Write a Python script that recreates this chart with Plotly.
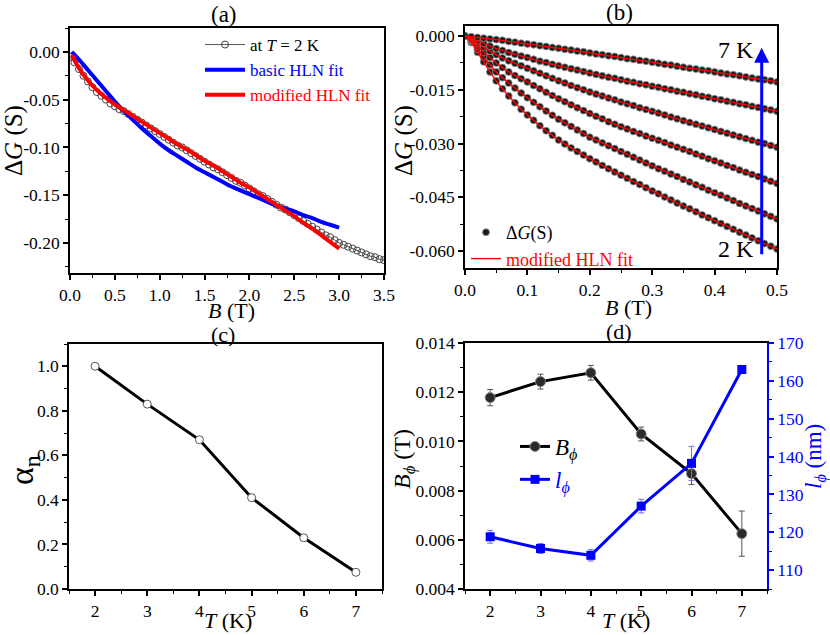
import plotly.graph_objects as go

FONT = "Liberation Serif, Times New Roman, DejaVu Serif, serif"

# ---------------- Panel (a) data ----------------
B_a = [0.00, 0.05, 0.10, 0.15, 0.20, 0.25, 0.30, 0.35, 0.40, 0.45,
       0.50, 0.55, 0.60, 0.65, 0.70, 0.75, 0.80, 0.85, 0.90, 0.95,
       1.00, 1.05, 1.10, 1.15, 1.20, 1.25, 1.30, 1.35, 1.40, 1.45,
       1.50, 1.55, 1.60, 1.65, 1.70, 1.75, 1.80, 1.85, 1.90, 1.95,
       2.00, 2.05, 2.10, 2.15, 2.20, 2.25, 2.30, 2.35, 2.40, 2.45,
       2.50, 2.55, 2.60, 2.65, 2.70, 2.75, 2.80, 2.85, 2.90, 2.95,
       3.00, 3.05, 3.10, 3.15, 3.20, 3.25, 3.30, 3.35, 3.40, 3.45,
       3.50]
dG_a = [-0.005, -0.011, -0.018, -0.025, -0.031, -0.037, -0.042, -0.046, -0.050, -0.054,
        -0.057, -0.060, -0.062, -0.065, -0.068, -0.071, -0.074, -0.077, -0.080, -0.083,
        -0.086, -0.089, -0.092, -0.095, -0.098, -0.100, -0.103, -0.106, -0.109, -0.112,
        -0.115, -0.118, -0.121, -0.123, -0.126, -0.129, -0.132, -0.135, -0.137, -0.140,
        -0.143, -0.146, -0.149, -0.151, -0.154, -0.157, -0.160, -0.163, -0.165, -0.168,
        -0.171, -0.174, -0.177, -0.180, -0.183, -0.186, -0.189, -0.192, -0.194, -0.197,
        -0.200, -0.202, -0.204, -0.206, -0.208, -0.210, -0.212, -0.214, -0.215, -0.217,
        -0.218]
B_fit_a = [0.02, 0.10, 0.20, 0.30, 0.40, 0.50, 0.60, 0.70, 0.80, 0.90,
           1.00, 1.10, 1.20, 1.30, 1.40, 1.50, 1.60, 1.70, 1.80, 1.90,
           2.00, 2.10, 2.20, 2.30, 2.40, 2.50, 2.60, 2.70, 2.80, 2.90,
           3.00]
basic_fit_a = [0.000, -0.008, -0.019, -0.030, -0.041, -0.052, -0.062, -0.071, -0.080, -0.088,
               -0.096, -0.103, -0.109, -0.115, -0.121, -0.126, -0.131, -0.136, -0.141, -0.145,
               -0.149, -0.153, -0.157, -0.161, -0.164, -0.167, -0.171, -0.174, -0.178, -0.181,
               -0.184]
mod_fit_a = [-0.003, -0.017, -0.030, -0.040, -0.048, -0.055, -0.061, -0.067, -0.073, -0.079,
             -0.085, -0.091, -0.097, -0.102, -0.108, -0.114, -0.119, -0.125, -0.131, -0.137,
             -0.142, -0.148, -0.154, -0.160, -0.166, -0.172, -0.179, -0.185, -0.192, -0.199,
             -0.206]

# ---------------- Panel (b) data ----------------
B_b = [0.00, 0.01, 0.02, 0.03, 0.04, 0.05, 0.06, 0.07, 0.08, 0.09,
       0.10, 0.11, 0.12, 0.13, 0.14, 0.15, 0.16, 0.17, 0.18, 0.19,
       0.20, 0.21, 0.22, 0.23, 0.24, 0.25, 0.26, 0.27, 0.28, 0.29,
       0.30, 0.31, 0.32, 0.33, 0.34, 0.35, 0.36, 0.37, 0.38, 0.39,
       0.40, 0.41, 0.42, 0.43, 0.44, 0.45, 0.46, 0.47, 0.48, 0.49,
       0.50]
dG_2K = [0.0, -0.0018, -0.0045, -0.0072, -0.0100, -0.0125, -0.0147, -0.0167, -0.0186, -0.0204,
         -0.0220, -0.0235, -0.0250, -0.0264, -0.0277, -0.0290, -0.0301, -0.0312, -0.0322, -0.0332,
         -0.0342, -0.0351, -0.0361, -0.0370, -0.0379, -0.0388, -0.0397, -0.0406, -0.0414, -0.0423,
         -0.0432, -0.0440, -0.0449, -0.0457, -0.0466, -0.0474, -0.0482, -0.0490, -0.0499, -0.0507,
         -0.0515, -0.0523, -0.0531, -0.0539, -0.0547, -0.0555, -0.0563, -0.0571, -0.0579, -0.0586,
         -0.0594]
dG_3K = [0.0, -0.0015, -0.0037, -0.0058, -0.0080, -0.0100, -0.0116, -0.0131, -0.0145, -0.0159,
         -0.0172, -0.0185, -0.0197, -0.0209, -0.0221, -0.0232, -0.0242, -0.0252, -0.0262, -0.0272,
         -0.0282, -0.0290, -0.0298, -0.0306, -0.0314, -0.0322, -0.0330, -0.0338, -0.0346, -0.0354,
         -0.0362, -0.0370, -0.0377, -0.0385, -0.0392, -0.0400, -0.0407, -0.0415, -0.0422, -0.0430,
         -0.0437, -0.0444, -0.0452, -0.0459, -0.0467, -0.0474, -0.0481, -0.0488, -0.0496, -0.0503,
         -0.0510]
dG_4K = [0.0, -0.0012, -0.0028, -0.0045, -0.0060, -0.0075, -0.0088, -0.0100, -0.0110, -0.0119,
         -0.0128, -0.0138, -0.0147, -0.0157, -0.0166, -0.0175, -0.0183, -0.0192, -0.0200, -0.0208,
         -0.0216, -0.0224, -0.0231, -0.0239, -0.0246, -0.0253, -0.0259, -0.0266, -0.0272, -0.0279,
         -0.0285, -0.0291, -0.0297, -0.0304, -0.0310, -0.0316, -0.0322, -0.0329, -0.0335, -0.0342,
         -0.0348, -0.0354, -0.0361, -0.0367, -0.0374, -0.0380, -0.0386, -0.0392, -0.0399, -0.0405,
         -0.0411]
dG_5K = [0.0, -0.0009, -0.0020, -0.0031, -0.0042, -0.0052, -0.0061, -0.0069, -0.0076, -0.0083,
         -0.0090, -0.0097, -0.0104, -0.0111, -0.0118, -0.0125, -0.0131, -0.0138, -0.0144, -0.0150,
         -0.0156, -0.0162, -0.0167, -0.0173, -0.0178, -0.0184, -0.0189, -0.0194, -0.0200, -0.0205,
         -0.0210, -0.0215, -0.0220, -0.0226, -0.0231, -0.0236, -0.0241, -0.0246, -0.0251, -0.0256,
         -0.0261, -0.0266, -0.0271, -0.0276, -0.0281, -0.0286, -0.0291, -0.0296, -0.0300, -0.0305,
         -0.0310]
dG_6K = [0.0, -0.0006, -0.0013, -0.0020, -0.0028, -0.0035, -0.0040, -0.0046, -0.0051, -0.0056,
         -0.0060, -0.0065, -0.0070, -0.0074, -0.0079, -0.0083, -0.0087, -0.0091, -0.0095, -0.0099,
         -0.0103, -0.0107, -0.0111, -0.0115, -0.0118, -0.0122, -0.0126, -0.0129, -0.0133, -0.0136,
         -0.0140, -0.0143, -0.0147, -0.0150, -0.0154, -0.0157, -0.0161, -0.0164, -0.0168, -0.0171,
         -0.0175, -0.0178, -0.0182, -0.0185, -0.0189, -0.0192, -0.0196, -0.0199, -0.0203, -0.0206,
         -0.0210]
dG_7K = [0.0, -0.0002, -0.0004, -0.0006, -0.0008, -0.0010, -0.0012, -0.0015, -0.0017, -0.0020,
         -0.0022, -0.0024, -0.0027, -0.0029, -0.0032, -0.0034, -0.0037, -0.0039, -0.0042, -0.0044,
         -0.0047, -0.0050, -0.0052, -0.0055, -0.0057, -0.0060, -0.0063, -0.0065, -0.0068, -0.0070,
         -0.0073, -0.0076, -0.0079, -0.0081, -0.0084, -0.0087, -0.0090, -0.0092, -0.0095, -0.0097,
         -0.0100, -0.0103, -0.0106, -0.0108, -0.0111, -0.0114, -0.0117, -0.0120, -0.0122, -0.0125,
         -0.0128]
curves_b = [dG_2K, dG_3K, dG_4K, dG_5K, dG_6K, dG_7K]

# ---------------- Panel (c), (d) data ----------------
T = [2, 3, 4, 5, 6, 7]
alpha_n = [1.00, 0.83, 0.67, 0.41, 0.23, 0.075]
B_phi = [0.01178, 0.01243, 0.01279, 0.01030, 0.00869, 0.00625]
B_phi_err = [0.00033, 0.00030, 0.00030, 0.00028, 0.00044, 0.00092]
l_phi = [118.8, 115.7, 113.9, 126.9, 138.2, 163.0]
l_phi_err = [1.7, 1.3, 1.5, 1.8, 4.5, 1.0]

# ---------------- tick labels ----------------
yticks_a = [0.00, -0.05, -0.10, -0.15, -0.20]
yticktext_a = ["0.00", "-0.05", "-0.10", "-0.15", "-0.20"]
xticks_a = [0.0, 0.5, 1.0, 1.5, 2.0, 2.5, 3.0, 3.5]
xticktext_a = ["0.0", "0.5", "1.0", "1.5", "2.0", "2.5", "3.0", "3.5"]
yticks_b = [0.000, -0.015, -0.030, -0.045, -0.060]
yticktext_b = ["0.000", "-0.015", "-0.030", "-0.045", "-0.060"]
xticks_b = [0.0, 0.1, 0.2, 0.3, 0.4, 0.5]
xticktext_b = ["0.0", "0.1", "0.2", "0.3", "0.4", "0.5"]
yticks_c = [0.0, 0.2, 0.4, 0.6, 0.8, 1.0]
yticktext_c = ["0.0", "0.2", "0.4", "0.6", "0.8", "1.0"]
yticks_d = [0.004, 0.006, 0.008, 0.010, 0.012, 0.014]
yticktext_d = ["0.004", "0.006", "0.008", "0.010", "0.012", "0.014"]
y2ticks_d = [110, 120, 130, 140, 150, 160, 170]

fig = go.Figure()

# ---- (a)
fig.add_trace(go.Scatter(
    x=B_a, y=dG_a, mode="lines+markers", name="at <i>T</i> = 2 K",
    line=dict(color="#555555", width=1),
    marker=dict(symbol="circle-open", size=7, color="#444444", line=dict(width=1)),
    xaxis="x", yaxis="y", legend="legend"))
fig.add_trace(go.Scatter(
    x=B_fit_a, y=basic_fit_a, mode="lines", name="<span style='color:#0000ff'>basic HLN fit</span>",
    line=dict(color="#0000ff", width=4, shape="spline"), xaxis="x", yaxis="y", legend="legend"))
fig.add_trace(go.Scatter(
    x=B_fit_a, y=mod_fit_a, mode="lines", name="<span style='color:#ff0000'>modified HLN fit</span>",
    line=dict(color="#ff0000", width=4, shape="spline"), xaxis="x", yaxis="y", legend="legend"))

# ---- (b)
for i, c in enumerate(curves_b):
    fig.add_trace(go.Scatter(
        x=B_b, y=c, mode="markers", name="Δ<i>G</i>(S)", showlegend=(i == 0),
        marker=dict(symbol="circle", size=7, color="#1c1c1c", line=dict(color="#9a9a9a", width=0.8)),
        xaxis="x2", yaxis="y2", legend="legend2"))
for i, c in enumerate(curves_b):
    fig.add_trace(go.Scatter(
        x=B_b, y=c, mode="lines", name="<span style='color:#ff0000'>modified HLN fit</span>",
        showlegend=(i == 0), line=dict(color="#ff0000", width=1.4, shape="spline"),
        xaxis="x2", yaxis="y2", legend="legend2"))

# ---- (c)
fig.add_trace(go.Scatter(
    x=T, y=alpha_n, mode="lines+markers", showlegend=False,
    line=dict(color="black", width=3),
    marker=dict(symbol="circle", size=8, color="white", line=dict(color="#555555", width=1)),
    xaxis="x3", yaxis="y3"))

# ---- (d)
fig.add_trace(go.Scatter(
    x=T, y=B_phi, mode="lines+markers", name="<i>B</i><sub><i>ϕ</i></sub>",
    error_y=dict(type="data", array=B_phi_err, color="#555555", thickness=1, width=3),
    line=dict(color="black", width=3),
    marker=dict(symbol="circle", size=10, color="#2a2a2a", line=dict(color="#888888", width=1)),
    xaxis="x4", yaxis="y4", legend="legend3"))
fig.add_trace(go.Scatter(
    x=T, y=l_phi, mode="lines+markers",
    name="<span style='color:#0000ff'><i>l</i><sub><i>ϕ</i></sub></span>",
    error_y=dict(type="data", array=l_phi_err, color="#6a6aff", thickness=1, width=3),
    line=dict(color="#0000ff", width=3),
    marker=dict(symbol="square", size=9, color="#0000ff"),
    xaxis="x4", yaxis="y5", legend="legend3"))

TICK = 17.5


def axis(domain, rng, anchor, tickvals=None, ticktext=None, minor=None,
         color="black", mirror=True, **kw):
    d = dict(domain=domain, range=rng, anchor=anchor, showline=True, linecolor=color,
             linewidth=1.5, mirror=mirror, ticks="outside", ticklen=5, tickwidth=1.5,
             tickcolor=color, showgrid=False, zeroline=False, automargin=False,
             tickfont=dict(size=TICK, family=FONT, color=color))
    if tickvals is not None:
        d["tickmode"] = "array"
        d["tickvals"] = tickvals
        if ticktext is not None:
            d["ticktext"] = ticktext
    if minor is not None:
        d["minor"] = dict(tickmode="linear", tick0=minor[0], dtick=minor[1], ticks="outside",
                          ticklen=3, tickwidth=1, tickcolor=color, showgrid=False)
    d.update(kw)
    return d


W, H = 830, 635


def px_x(a, b):
    return [a / W, b / W]


def px_y(top, bottom):
    return [1 - bottom / H, 1 - top / H]


def label(text, x, y, size=22, angle=0, color="black"):
    return dict(text=text, x=x / W, y=1 - y / H, xref="paper", yref="paper",
                xanchor="center", yanchor="middle", showarrow=False, textangle=angle,
                font=dict(size=size, family=FONT, color=color))


fig.update_layout(
    template="none",
    width=W, height=H, margin=dict(l=0, r=0, t=0, b=0, autoexpand=False),
    paper_bgcolor="white", plot_bgcolor="white",
    font=dict(family=FONT, size=16, color="black"),
    xaxis=axis(px_x(70, 384), [0, 3.5], "y", xticks_a, xticktext_a, (0, 0.25)),
    yaxis=axis(px_y(28, 273), [-0.2315, 0.025], "x", yticks_a, yticktext_a, (0, 0.025)),
    xaxis2=axis(px_x(465, 777), [0, 0.5], "y2", xticks_b, xticktext_b, (0, 0.05)),
    yaxis2=axis(px_y(26, 268), [-0.0647, 0.0028], "x2", yticks_b, yticktext_b, (0, 0.0075)),
    xaxis3=axis(px_x(69, 382), [1.5, 7.5], "y3", T, [str(t) for t in T], (0, 0.5)),
    yaxis3=axis(px_y(344, 589), [0, 1.1], "x3", yticks_c, yticktext_c, (0, 0.1)),
    xaxis4=axis(px_x(465, 767), [1.5, 7.5], "y4", T, [str(t) for t in T], (0, 0.5)),
    yaxis4=axis(px_y(343, 589), [0.004, 0.014], "x4", yticks_d, yticktext_d, (0, 0.001),
                mirror=False),
    yaxis5=axis(px_y(343, 589), [105, 170], "x4", y2ticks_d, [str(v) for v in y2ticks_d],
                (0, 5), color="#0000ff", mirror=False, overlaying="y4", side="right"),
    legend=dict(x=200 / W, y=1 - 27 / H, xanchor="left", yanchor="top",
                bgcolor="rgba(0,0,0,0)", font=dict(size=17, family=FONT),
                tracegroupgap=0, itemwidth=40),
    legend2=dict(x=466 / W, y=1 - 214 / H, xanchor="left", yanchor="top",
                 bgcolor="rgba(0,0,0,0)", font=dict(size=18, family=FONT),
                 tracegroupgap=0, itemwidth=30),
    legend3=dict(x=515 / W, y=1 - 425 / H, xanchor="left", yanchor="top",
                 bgcolor="rgba(0,0,0,0)", font=dict(size=23, family=FONT),
                 tracegroupgap=0, itemwidth=30),
    annotations=[
        label("(a)", 224, 14, 23),
        label("(b)", 619, 13, 23),
        label("(c)", 223, 334, 22),
        label("(d)", 619, 331, 22),
        label("<i>B</i> (T)", 231, 310, 22),
        label("<i>B</i> (T)", 628, 308, 22),
        label("<i>T</i> (K)", 228, 620, 22),
        label("<i>T</i> (K)", 626, 620, 22),
        label("Δ<i>G</i> (S)", 14, 141, 25, -90),
        label("Δ<i>G</i> (S)", 404, 141, 25, -90),
        label("α<sub>n</sub>", 24, 470, 34, -90),
        label("<i>B</i><sub><i>ϕ</i></sub> (T)", 404, 459, 24, -90),
        label("<i>l</i><sub><i>ϕ</i></sub> (nm)", 815, 457, 23, -90, "#0000ff"),
        dict(text="7 K", x=0.434, y=-0.0040, xref="x2", yref="y2", showarrow=False,
             xanchor="center", yanchor="middle", font=dict(size=24, family=FONT)),
        dict(text="2 K", x=0.434, y=-0.0594, xref="x2", yref="y2", showarrow=False,
             xanchor="center", yanchor="middle", font=dict(size=24, family=FONT)),
        dict(x=0.4755, y=-0.0033, ax=0.4755, ay=-0.0613, xref="x2", yref="y2",
             axref="x2", ayref="y2", text="", showarrow=True, arrowhead=2,
             arrowsize=1, arrowwidth=3, arrowcolor="#0000ff"),
    ],
)

fig.write_html("out.html", config={"displayModeBar": False},
               post_script="document.body.style.margin='0px';")
